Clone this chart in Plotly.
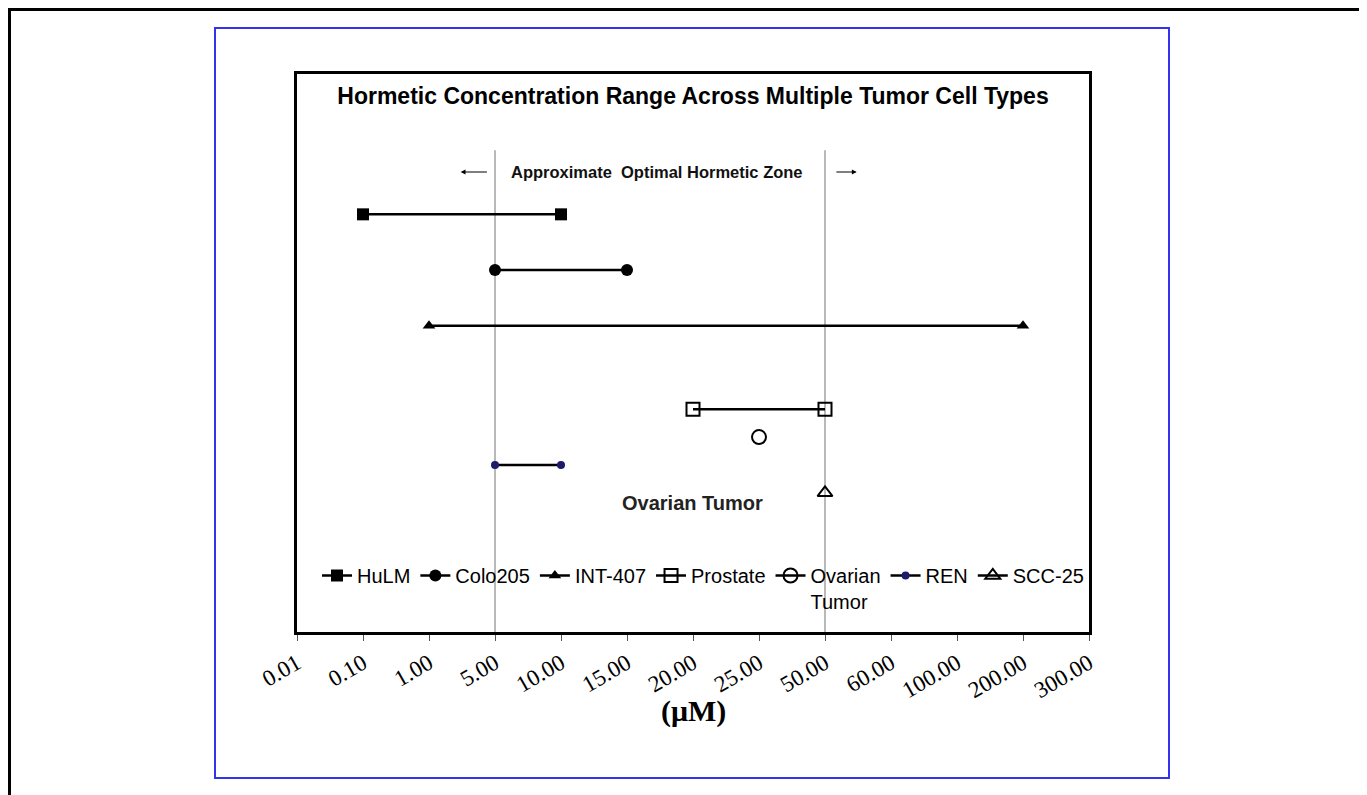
import plotly.graph_objects as go

# Categorical concentration axis (µM)
categories = ["0.01", "0.10", "1.00", "5.00", "10.00", "15.00", "20.00",
              "25.00", "50.00", "60.00", "100.00", "200.00", "300.00"]

series_names = ["HuLM", "Colo205", "INT-407", "Prostate", "Ovarian<br>Tumor", "REN", "SCC-25"]
series_x = [["0.10", "10.00"], ["5.00", "15.00"], ["1.00", "200.00"],
            ["20.00", "50.00"], ["25.00"], ["5.00", "10.00"], ["50.00"]]
series_row = [7.5, 6.5, 5.5, 4.0, 3.5, 3.0, 2.5]

zone_bounds = ["5.00", "50.00"]

symbols = ["square", "circle", "triangle-up", "square-open", "circle-open", "circle", "triangle-up-open"]
sizes = [12, 12, 11, 13, 14, 8, 13]
marker_colors = ["black", "black", "black", "black", "black", "#1c1c6b", "black"]

idx = {c: i for i, c in enumerate(categories)}

# page geometry (browser body margin of 8px is taken into account)
W, H = 1359, 787
PL, PR, PT, PB = 297, 1089, 74, 632          # plot box in page pixels
def px(x):
    return (x - PL) / (PR - PL)
def py(y):
    return (PB - y) / (PB - PT)

SANS = "Arial Narrow, Liberation Sans Narrow, Liberation Sans, Arial"
SERIF = "Liberation Serif, Times New Roman, serif"

fig = go.Figure()
for name, xs, row, sym, sz, mc in zip(series_names, series_x, series_row, symbols, sizes, marker_colors):
    fig.add_trace(go.Scatter(
        x=xs, y=[row] * len(xs), name=name, mode="lines+markers",
        line=dict(color="black", width=2.5),
        marker=dict(symbol=sym, size=sz, color=mc,
                    line=dict(color=mc, width=2 if "open" in sym else 0)),
    ))

for b in zone_bounds:
    fig.add_shape(type="line", xref="x", yref="y", x0=idx[b], x1=idx[b], y0=0, y1=8.65,
                  line=dict(color="#8a8a8a", width=1.2), layer="below")

# Outer frames
fig.add_shape(type="rect", xref="paper", yref="paper",
              x0=px(9.5), x1=px(1390), y0=py(820), y1=py(9.5),
              line=dict(color="black", width=3))
fig.add_shape(type="rect", xref="paper", yref="paper",
              x0=px(215), x1=px(1169), y0=py(778), y1=py(28),
              line=dict(color="#3333ee", width=2))

# Zone label and arrows
fig.add_annotation(x=px(657), xref="paper", y=py(172), yref="paper",
                   xanchor="center", yanchor="middle",
                   text="<b>Approximate  Optimal Hormetic Zone</b>", showarrow=False,
                   font=dict(family=SANS, size=16.5, color="#111"))
fig.add_annotation(x=idx["5.00"] - 0.52, y=8.26, ax=idx["5.00"] - 0.1, ay=8.26,
                   xref="x", yref="y", axref="x", ayref="y", text="", showarrow=True,
                   arrowhead=2, arrowsize=0.8, arrowwidth=1.2, arrowcolor="black")
fig.add_annotation(x=idx["50.00"] + 0.48, y=8.26, ax=idx["50.00"] + 0.15, ay=8.26,
                   xref="x", yref="y", axref="x", ayref="y", text="", showarrow=True,
                   arrowhead=2, arrowsize=0.8, arrowwidth=1.2, arrowcolor="black")
fig.add_annotation(x=px(692), xref="paper", y=py(503), yref="paper",
                   xanchor="center", yanchor="middle",
                   text="<b>Ovarian Tumor</b>", showarrow=False,
                   font=dict(family=SANS, size=20, color="#222"))
# axis title
fig.add_annotation(x=px(693), xref="paper", y=py(711), yref="paper",
                   xanchor="center", yanchor="middle",
                   text="<b>(μM)</b>", showarrow=False,
                   font=dict(family=SERIF, size=30, color="black"))

fig.update_layout(
    width=W, height=H, autosize=False,
    paper_bgcolor="white", plot_bgcolor="white",
    margin=dict(l=PL - 8, r=W - (PR - 8), t=PT - 8, b=H - (PB - 8)),
    title=dict(text="<b>Hormetic Concentration Range Across Multiple Tumor Cell Types</b>",
               x=(693 - 8) / W, xanchor="center", y=1 - (96 - 8) / H, yanchor="middle",
               font=dict(family=SANS, size=23, color="black")),
    xaxis=dict(type="category", categoryorder="array", categoryarray=categories,
               tickvals=categories, ticktext=categories,
               range=[0, len(categories) - 1], tickangle=-30,
               showline=True, mirror=True, linecolor="black", linewidth=3,
               ticks="outside", ticklen=6, tickcolor="#555", tickwidth=1,
               showgrid=False, zeroline=False,
               tickfont=dict(family=SERIF, size=23, color="black")),
    yaxis=dict(range=[0, 10.02], showticklabels=False, showgrid=False, zeroline=False,
               showline=True, mirror=True, linecolor="black", linewidth=3, ticks=""),
    legend=dict(orientation="h", x=px(703), xanchor="center", y=py(556), yanchor="top",
                bgcolor="rgba(0,0,0,0)", itemwidth=30, valign="top",
                font=dict(family=SANS, size=20, color="black")),
    showlegend=True,
)

fig.write_html("out.html")
